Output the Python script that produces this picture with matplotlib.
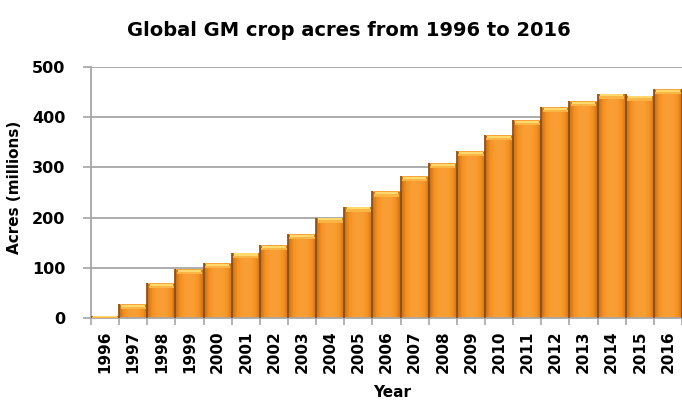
import numpy as np
import matplotlib
matplotlib.use('Agg')
import matplotlib.pyplot as plt
from matplotlib.colors import LinearSegmentedColormap

# Data (millions of acres)
years = [str(y) for y in range(1996, 2017)]
acres = [4, 27, 69, 98, 109, 130, 145, 167, 200, 222, 252,
         282, 309, 333, 365, 394, 420, 432, 447, 443, 456]
y_ticks = [0, 100, 200, 300, 400, 500]

plt.rcParams['font.family'] = 'DejaVu Sans'
plt.rcParams['font.weight'] = 'bold'

fig = plt.figure(figsize=(6.82, 4.0), dpi=100)
ax = fig.add_axes([91 / 682, 82 / 400, 1 - 91 / 682, 251 / 400])

x = np.arange(len(years))
bars = ax.bar(x, acres, width=1.0, color='#f7931e', linewidth=0, zorder=2)

# horizontal shading inside each bar: darker at the sides
shade = LinearSegmentedColormap.from_list(
    'shade', ['#c46c1a', '#f4901f', '#f99d32', '#fa9f35', '#f99d32', '#f4901f', '#c46c1a'])
grad = np.atleast_2d(np.linspace(0, 1, 64))
for b in bars:
    x0, y0 = b.get_x(), b.get_y()
    im = ax.imshow(grad, cmap=shade, aspect='auto', zorder=2.5,
                   extent=(x0, x0 + b.get_width(), y0, y0 + b.get_height()))
    im.set_clip_path(b)

# yellow bevel on top of each bar
vals = np.array(acres, dtype=float)
bev = np.minimum(vals, 10)
ax.bar(x, bev * 0.45, bottom=vals - bev, width=0.9,
       color='#fbb545', linewidth=0, zorder=3)
ax.bar(x, bev * 0.55, bottom=vals - bev * 0.55, width=0.84,
       color='#fdd96e', linewidth=0, zorder=3)
ax.bar(x, bev * 0.15, bottom=vals - bev * 0.15, width=0.98,
       color='#f6a53a', linewidth=0, zorder=3)

# darker seams on the bar sides
ax.vlines(x - 0.5, 0, vals, color='#8f5216', linewidth=1.3, zorder=3.5)
ax.vlines(x + 0.5, 0, vals, color='#8f5216', linewidth=1.3, zorder=3.5)

ax.set_xlim(-0.5, 20.27)
ax.set_ylim(0, 500)
ax.set_yticks(y_ticks)
ax.set_xticks(x)
ax.set_xticklabels(years, rotation=90, fontsize=11, fontweight='bold')
ax.set_xticks(np.arange(len(years) + 1) - 0.5, minor=True)
ax.tick_params(axis='x', which='major', length=0, pad=9)
ax.tick_params(axis='x', which='minor', length=5, width=1.2, color='#a6a6a6')
ax.tick_params(axis='y', length=5.5, width=1.2, color='#a6a6a6',
               labelsize=11.5, pad=13)
for lab in ax.get_yticklabels():
    lab.set_fontweight('bold')

ax.grid(axis='y', color='#a6a6a6', linewidth=1.3, zorder=0)
ax.set_axisbelow(True)
for s in ['top', 'right']:
    ax.spines[s].set_visible(False)
for s in ['left', 'bottom']:
    ax.spines[s].set_color('#a6a6a6')
    ax.spines[s].set_linewidth(1.3)

ax.set_ylabel('Acres (millions)', fontsize=11, fontweight='bold')
ax.yaxis.set_label_coords(-0.117, 0.52)
ax.set_xlabel('Year', fontsize=11, fontweight='bold')
ax.xaxis.set_label_coords(0.51, -0.265)

fig.text(349 / 682, 1 - 30 / 400, 'Global GM crop acres from 1996 to 2016',
         ha='center', va='center', fontsize=14, fontweight='bold')

fig.savefig('out.png', dpi=100)
